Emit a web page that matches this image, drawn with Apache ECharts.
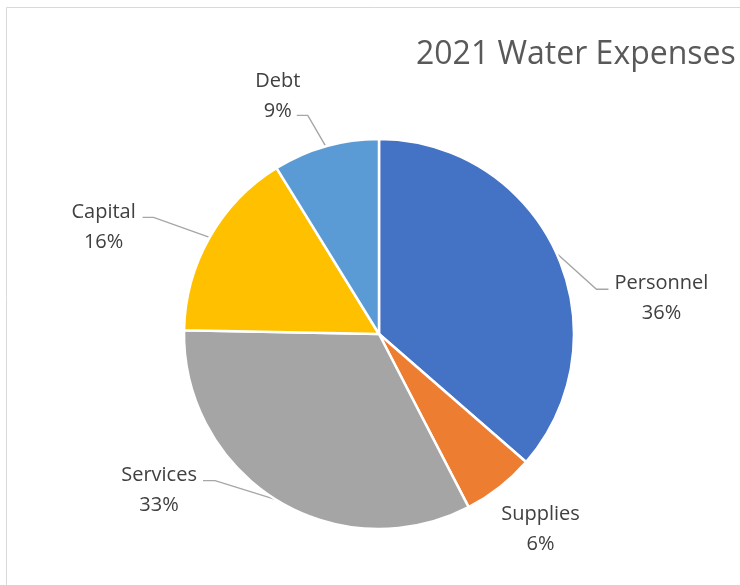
<!DOCTYPE html>
<html><head><meta charset="utf-8">
<script src="https://cdn.jsdelivr.net/npm/echarts@6/dist/echarts.min.js"></script>
<style>html,body{margin:0;padding:0;background:#fff}#c{width:740px;height:585px}</style>
</head><body><div id="c"></div>
<script>
const categories = ['Personnel', 'Supplies', 'Services', 'Capital', 'Debt'];
const values = [36.4, 6.0, 32.9, 15.9, 8.8];
const titleText = '2021 Water Expenses';

const colors = ['#4472C4', '#ED7D31', '#A5A5A5', '#FFC000', '#5B9BD5'];
// label placement relative to each slice's edge anchor (computed by ECharts)
const labelOffsets = [
  { label: [105, 45], line: [[40, 36], [52, 36]] },
  { label: [41, 42], line: null },
  { label: [-117, -9], line: [[-61, -19], [-73, -19]] },
  { label: [-106, -10], line: [[-56, -20], [-67, -20]] },
  { label: [-48, -50], line: [[-18, -31], [-29, -31]] }
];

const chart = echarts.init(document.getElementById('c'), null, { renderer: 'canvas' });
const data = categories.map((name, i) => ({
  name: name,
  value: values[i],
  itemStyle: { color: colors[i] },
  labelLine: { show: !!labelOffsets[i].line }
}));

chart.setOption({
  animation: false,
  backgroundColor: '#ffffff',
  title: {
    text: titleText,
    left: 416,
    top: 39,
    padding: 0,
    textStyle: { fontFamily: 'Open Sans', fontSize: 32, fontWeight: 'normal', color: '#595959' }
  },
  graphic: [{
    type: 'rect',
    shape: { x: 6.5, y: 7.5, width: 1000, height: 1000 },
    style: { fill: 'none', stroke: '#d9d9d9', lineWidth: 1 },
    silent: true, z: -1
  }],
  series: [{
    type: 'pie',
    center: [379, 334],
    radius: 195,
    startAngle: 90,
    clockwise: true,
    avoidLabelOverlap: false,
    emphasis: { disabled: true },
    itemStyle: { borderColor: '#ffffff', borderWidth: 2.5 },
    label: {
      show: true,
      position: 'outside',
      fontFamily: 'Open Sans',
      fontSize: 20,
      lineHeight: 30,
      color: '#404040',
      formatter: p => p.name + '\n' + Math.round(p.percent) + '%'
    },
    labelLine: { show: true, length: 20, length2: 10, lineStyle: { color: '#A6A6A6', width: 1.4 } },
    labelLayout: function (params) {
      const o = labelOffsets[params.dataIndex];
      const p0 = params.labelLinePoints ? params.labelLinePoints[0] : [0, 0];
      const res = {
        x: p0[0] + o.label[0],
        y: p0[1] + o.label[1],
        align: 'center',
        verticalAlign: 'middle'
      };
      if (o.line) {
        res.labelLinePoints = [
          [p0[0], p0[1]],
          [p0[0] + o.line[0][0], p0[1] + o.line[0][1]],
          [p0[0] + o.line[1][0], p0[1] + o.line[1][1]]
        ];
      }
      return res;
    },
    data: data
  }]
});
</script>
</body></html>
